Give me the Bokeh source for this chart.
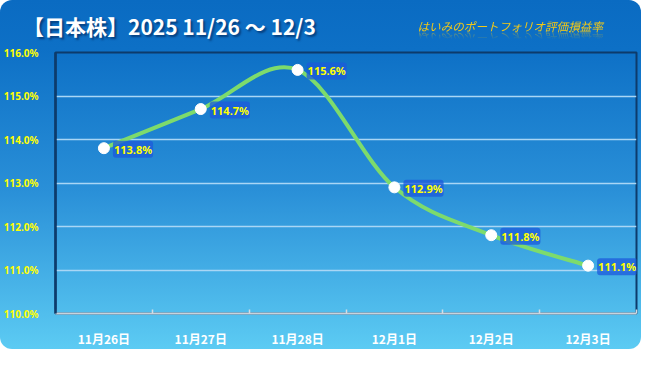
from bokeh.plotting import figure
from bokeh.models import Label, Div, FixedTicker, PrintfTickFormatter, Range1d
from bokeh.layouts import column
from bokeh.embed import file_html
from bokeh.resources import INLINE

# ---- data ----
dates = ["11月26日", "11月27日", "11月28日", "12月1日", "12月2日", "12月3日"]
values = [113.8, 114.7, 115.6, 112.9, 111.8, 111.1]
y_ticks = [110, 111, 112, 113, 114, 115, 116]
title_text = "【日本株】2025 11/26 〜 12/3"
subtitle_text = "はいみのポートフォリオ評価損益率"

n = len(dates)
xs = [i + 0.5 for i in range(n)]

W = 641
HEADER_H = 44

header = Div(
    width=W, height=HEADER_H, margin=0,
    text=(
        '<div style="position:relative;width:%dpx;height:%dpx;">'
        '<span style="position:absolute;left:23px;top:16px;white-space:nowrap;'
        "font-family:'Noto Sans CJK JP';font-weight:bold;font-size:21px;line-height:21px;"
        'color:#ffffff;text-shadow:2px 2px 2px rgba(0,25,70,0.55);">%s</span>'
        '<span style="position:absolute;right:38px;top:20px;white-space:nowrap;'
        "font-family:'Noto Sans CJK JP';font-style:italic;font-size:11.6px;line-height:13px;"
        'color:#f2c817;-webkit-box-reflect:below -2px linear-gradient(transparent 35%%, rgba(255,255,255,0.5));">%s</span>'
        '</div>' % (W, HEADER_H, title_text, subtitle_text)
    ),
)

p = figure(width=W, height=349 - HEADER_H, output_backend="svg", toolbar_location=None,
           x_range=Range1d(0, n), y_range=Range1d(y_ticks[0], y_ticks[-1]),
           min_border_left=55, min_border_right=5, min_border_top=8,
           min_border_bottom=29, margin=0)
p.title.visible = False
p.background_fill_alpha = 0
p.border_fill_alpha = 0
p.outline_line_color = "#0d3b6b"
p.outline_line_width = 2

# x axis
p.xaxis.ticker = FixedTicker(ticks=xs, minor_ticks=list(range(n + 1)))
p.xaxis.major_label_overrides = {x: d for x, d in zip(xs, dates)}
p.xaxis.major_tick_line_color = None
p.xaxis.minor_tick_in = 4
p.xaxis.minor_tick_out = 0
p.xaxis.minor_tick_line_color = "#d4dce4"
p.xaxis.minor_tick_line_width = 1.5
p.xaxis.axis_line_color = "#c9d3dc"
p.xaxis.axis_line_width = 2
p.xaxis.major_label_standoff = 10
p.xaxis.major_label_text_color = "white"
p.xaxis.major_label_text_font = "Noto Sans CJK JP"
p.xaxis.major_label_text_font_size = "12px"
p.xaxis.major_label_text_font_style = "bold"

# y axis
p.yaxis.ticker = FixedTicker(ticks=y_ticks)
p.yaxis.formatter = PrintfTickFormatter(format="%.1f%%")
p.yaxis.major_tick_line_color = None
p.yaxis.minor_tick_line_color = None
p.yaxis.axis_line_color = "#0d3b6b"
p.yaxis.axis_line_width = 2.5
p.yaxis.major_label_standoff = 11
p.yaxis.major_label_text_color = "#ffff00"
p.yaxis.major_label_text_font = "Noto Sans"
p.yaxis.major_label_text_font_size = "10px"
p.yaxis.major_label_text_font_style = "bold"

p.xgrid.grid_line_color = None
p.ygrid.grid_line_color = "#a9d6f5"
p.ygrid.grid_line_width = 1.5

# smooth line (Catmull-Rom as cubic Bezier through the data points)
x0, y0, x1, y1, cx0, cy0, cx1, cy1 = [], [], [], [], [], [], [], []
for i in range(n - 1):
    ip = max(i - 1, 0)
    inn = min(i + 2, n - 1)
    x0.append(xs[i]); y0.append(values[i])
    x1.append(xs[i + 1]); y1.append(values[i + 1])
    cx0.append(xs[i] + (xs[i + 1] - xs[ip]) / 6)
    cy0.append(values[i] + (values[i + 1] - values[ip]) / 6)
    cx1.append(xs[i + 1] - (xs[inn] - xs[i]) / 6)
    cy1.append(values[i + 1] - (values[inn] - values[i]) / 6)
p.bezier(x0=x0, y0=y0, x1=x1, y1=y1, cx0=cx0, cy0=cy0, cx1=cx1, cy1=cy1,
         line_color="#7ddb6c", line_width=4, line_cap="round")

p.scatter(xs, values, size=11, fill_color="white", line_color="white")

for x, v in zip(xs, values):
    p.add_layout(Label(x=x, y=v, x_offset=9, y_offset=-1, text=f"{v:.1f}%",
                       text_baseline="middle", text_align="left",
                       text_color="#ffff00", text_font="Noto Sans",
                       text_font_size="11px", text_font_style="bold",
                       background_fill_color="#1c5adb", background_fill_alpha=0.75,
                       padding=1, border_radius=3))

layout = column(header, p, spacing=0, margin=0, styles={
    "background": "linear-gradient(to bottom, #0a6bc2 0%, #0d70c6 14%, #2a90d8 55%, #5ccbf3 100%)",
    "border-radius": "12px",
    "overflow": "hidden",
})

open("out.html", "w").write(file_html(layout, INLINE))
